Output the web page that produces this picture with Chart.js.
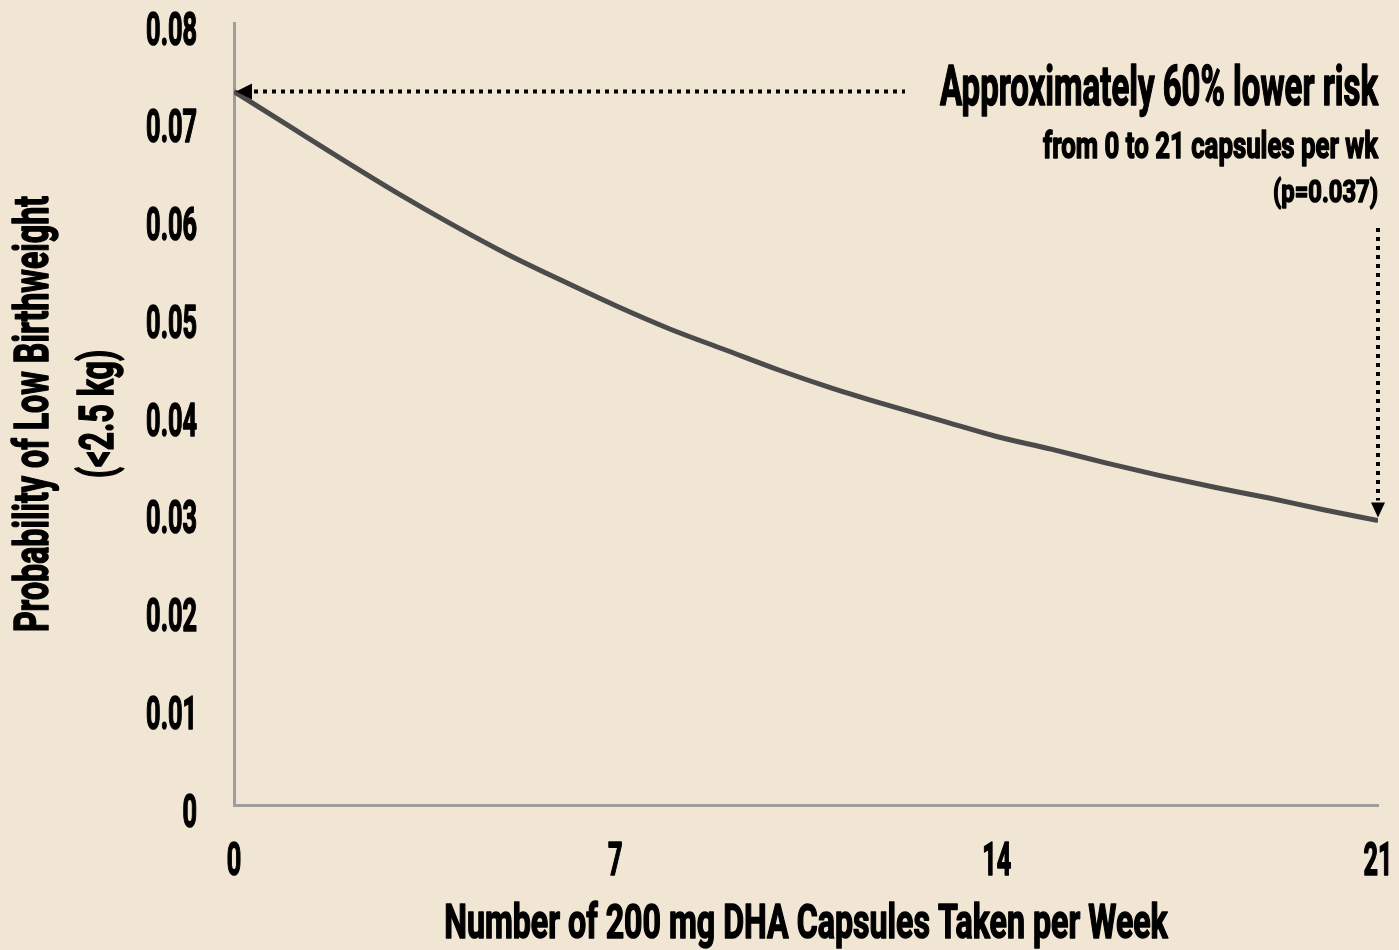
<!DOCTYPE html>
<html>
<head>
<meta charset="utf-8">
<title>DHA capsules and low birthweight</title>
<script src="https://cdn.jsdelivr.net/npm/chart.js@4.4.1/dist/chart.umd.min.js"></script>
<style>
  html, body { margin: 0; padding: 0; background: #f1e6d3; }
  canvas { display: block; }
</style>
</head>
<body>
<canvas id="dhaChart" width="1399" height="950"></canvas>
<script>
// values, one per capsule count
const capsules = [0, 1, 2, 3, 4, 5, 6, 7, 8, 9, 10, 11, 12, 13, 14, 15, 16, 17, 18, 19, 20, 21];
const probability = [0.0730, 0.0695, 0.0660, 0.0626, 0.0594, 0.0564, 0.0537, 0.0511, 0.0487, 0.0466, 0.0445,
  0.0426, 0.0409, 0.0393, 0.0377, 0.0364, 0.0350, 0.0337, 0.0325, 0.0314, 0.0302, 0.0291];
const xTicks = ['0', '7', '14', '21'];
const yTicks = ['0', '0.01', '0.02', '0.03', '0.04', '0.05', '0.06', '0.07', '0.08'];
const noteLines = ['Approximately 60% lower risk', 'from 0 to 21 capsules per wk', '(p=0.037)'];

const fontFamily = "Roboto, 'Liberation Sans', sans-serif";
const canvas = document.getElementById('dhaChart');
const ctx = canvas.getContext('2d');

// the original uses a very narrow heavy typeface, so squeeze every text
// horizontally and thicken it a little with a stroke
const plainFillText = ctx.fillText.bind(ctx);
const plainStrokeText = ctx.strokeText.bind(ctx);
let squeeze = null;
ctx.fillText = function (text, x, y, maxWidth) {
  const s = squeeze || (/^[\d.]+$/.test(text) ? 0.55 : 0.67);
  ctx.save();
  ctx.translate(x, y);
  ctx.scale(s, 1);
  ctx.setLineDash([]);
  ctx.lineWidth = 1.6;
  ctx.lineJoin = 'round';
  ctx.strokeStyle = ctx.fillStyle;
  if (maxWidth === undefined) {
    plainFillText(text, 0, 0);
    plainStrokeText(text, 0, 0);
  } else {
    plainFillText(text, 0, 0, maxWidth / s);
    plainStrokeText(text, 0, 0, maxWidth / s);
  }
  ctx.restore();
};

const background = {
  id: 'background',
  beforeDraw(chart) {
    const c = chart.ctx;
    c.save();
    c.fillStyle = '#f1e6d3';
    c.fillRect(0, 0, chart.width, chart.height);
    c.restore();
  }
};

// dotted arrows and the note on the right
const notes = {
  id: 'notes',
  afterDatasetsDraw(chart) {
    const c = chart.ctx;
    const xs = chart.scales.x, ys = chart.scales.y;
    const last = capsules.length - 1;
    const x0 = xs.getPixelForValue(capsules[0]);
    const y0 = ys.getPixelForValue(probability[0]);
    const x1 = xs.getPixelForValue(capsules[last]);
    const y1 = ys.getPixelForValue(probability[last]);

    c.save();
    c.strokeStyle = '#000';
    c.fillStyle = '#000';
    c.lineWidth = 4;
    c.setLineDash([4, 5]);
    c.beginPath();
    c.moveTo(x0 + 20, y0);
    c.lineTo(905, y0);
    c.moveTo(x1, 228);
    c.lineTo(x1, y1 - 20);
    c.stroke();
    c.setLineDash([]);

    c.beginPath();
    c.moveTo(x0 + 2, y0);
    c.lineTo(x0 + 18, y0 - 8);
    c.lineTo(x0 + 18, y0 + 8);
    c.closePath();
    c.fill();

    c.beginPath();
    c.moveTo(x1, y1 - 3);
    c.lineTo(x1 - 7, y1 - 18);
    c.lineTo(x1 + 7, y1 - 18);
    c.closePath();
    c.fill();

    const sizes = [55, 37, 32];
    const baselines = [105, 158, 202];
    const widths = [438, 335, 105];
    c.textAlign = 'right';
    c.textBaseline = 'alphabetic';
    noteLines.forEach((t, i) => {
      c.font = 'bold ' + sizes[i] + 'px ' + fontFamily;
      squeeze = widths[i] / c.measureText(t).width;
      c.fillText(t, x1, baselines[i]);
    });
    squeeze = null;
    c.restore();
  }
};

const tickFont = { family: fontFamily, size: 46, weight: 'bold', lineHeight: 1 };

new Chart(ctx, {
  type: 'line',
  data: {
    datasets: [{
      data: capsules.map((c, i) => ({ x: c, y: probability[i] })),
      borderColor: '#4b4b4b',
      borderWidth: 5,
      pointRadius: 0,
      cubicInterpolationMode: 'monotone',
      fill: false
    }]
  },
  options: {
    responsive: false,
    animation: false,
    layout: { padding: { top: 23, right: 21, left: 0, bottom: 0 } },
    plugins: {
      legend: { display: false },
      tooltip: { enabled: false }
    },
    scales: {
      x: {
        type: 'linear',
        min: 0,
        max: 21,
        grid: { display: false, drawTicks: false },
        border: { color: '#9e9e9e', width: 3 },
        ticks: {
          stepSize: 7,
          padding: 35,
          color: '#000',
          font: tickFont,
          maxRotation: 0,
          callback: (v, i) => xTicks[i]
        },
        title: {
          display: true,
          text: 'Number of 200 mg DHA Capsules Taken per Week',
          color: '#000',
          font: { family: fontFamily, size: 48, weight: 'bold', lineHeight: 1.0 },
          padding: 0
        },
        afterFit(scale) {
          scale.height = 145;
          scale.paddingLeft = 0;
          scale.paddingRight = 0;
        }
      },
      y: {
        min: 0,
        max: 0.08,
        grid: { display: false, drawTicks: false },
        border: { color: '#9e9e9e', width: 3 },
        ticks: {
          stepSize: 0.01,
          padding: 37,
          labelOffset: 10,
          color: '#000',
          font: tickFont,
          callback: (v, i) => yTicks[i]
        },
        title: {
          display: true,
          text: ['Probability of Low Birthweight', '(<2.5 kg)'],
          color: '#000',
          font: { family: fontFamily, size: 48, weight: 'bold', lineHeight: 1.35 },
          padding: { top: 4, bottom: 0 }
        },
        afterFit(scale) {
          scale.width = 234;
          scale.paddingTop = 0;
          scale.paddingBottom = 0;
        }
      }
    }
  },
  plugins: [background, notes]
});
</script>
</body>
</html>
